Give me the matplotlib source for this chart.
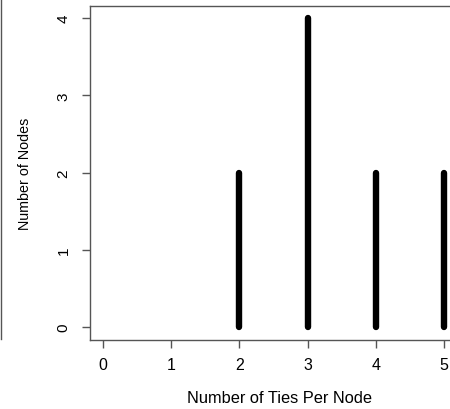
import matplotlib
matplotlib.use("Agg")
import matplotlib.pyplot as plt
from matplotlib.lines import Line2D

ties = [2, 3, 4, 5]
nodes = [2, 4, 2, 2]
x_ticks = [0, 1, 2, 3, 4, 5]
y_ticks = [0, 1, 2, 3, 4]

plt.rcParams['font.family'] = ['Liberation Sans', 'DejaVu Sans']

W, H = 450, 410
fig = plt.figure(figsize=(W / 100, H / 100), dpi=100)
left, right = 89.5 / W, 457.5 / W
bottom, top = 1 - 340.5 / H, 1 - 6.8 / H
ax = fig.add_axes([left, bottom, right - left, top - bottom])

for x, y in zip(ties, nodes):
    ax.plot([x, x], [0, y], color='black', lw=4.6, solid_capstyle='round')

ax.set_xlim(-0.2, 5.2)
ax.set_ylim(-0.16, 4.16)
ax.set_xticks(x_ticks)
ax.set_yticks(y_ticks)
ax.set_yticklabels([str(v) for v in y_ticks], rotation=90, va='center')
grey = '#555555'
for s in ax.spines.values():
    s.set_color(grey)
    s.set_linewidth(1.0)
ax.tick_params(axis='both', colors=grey, length=6, width=1.0, labelcolor='black', labelsize=11)
ax.tick_params(axis='x', pad=6.5, labelsize=11.5)
ax.tick_params(axis='y', pad=7.5)
ax.set_xlabel('Number of Ties Per Node', fontsize=11.8)
ax.set_ylabel('Number of Nodes', fontsize=10.3)
axh = 340.5 - 6.8
axw = 457.5 - 89.5
ax.xaxis.set_label_coords((279.5 - 89.5) / axw, (340.5 - 398.5) / axh)
ax.xaxis.label.set_va('center')
ax.yaxis.set_label_coords((25 - 89.5) / axw, (340.5 - 173.4) / axh)
ax.yaxis.label.set_va('center')

fig.add_artist(Line2D([1 / W, 1 / W], [1, 1 - 340 / H], color=grey, lw=1.0, transform=fig.transFigure))

fig.savefig('out.png', dpi=100)
